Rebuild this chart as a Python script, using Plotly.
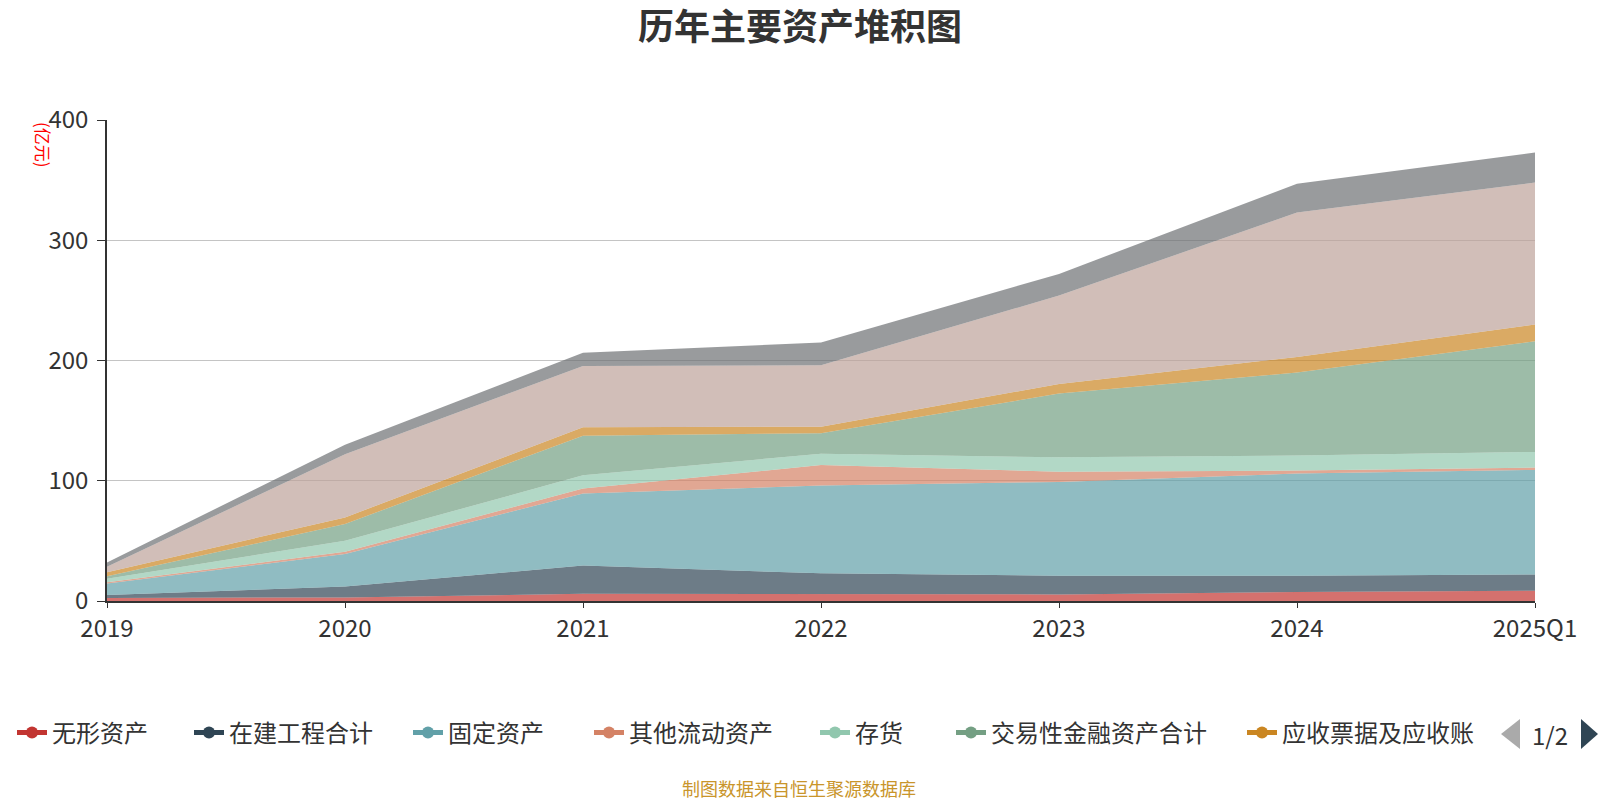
import plotly.graph_objects as go

categories = ["2019", "2020", "2021", "2022", "2023", "2024", "2025Q1"]

series_names = ["无形资产", "在建工程合计", "固定资产", "其他流动资产", "存货",
                "交易性金融资产合计", "应收票据及应收账", "货币资金", "其他"]
colors = ["#c23531", "#2f4554", "#61a0a8", "#d48265", "#91c7ae",
          "#749f83", "#ca8622", "#bda29a", "#6e7074"]

wuxing = [2.5, 3, 6, 5.5, 5.5, 7.5, 8.5]
zaijian = [2.5, 9, 23.5, 17.5, 15.5, 13.5, 13.5]
guding = [9.5, 27, 60, 73, 78, 85, 87]
qitaliudong = [1, 2, 4, 17, 8.5, 2.5, 2]
cunhuo = [3, 9, 11, 9.5, 12, 12.5, 13]
jiaoyixing = [2, 14, 33, 17, 53, 69, 92]
yingshou = [3.5, 5.5, 7, 5.5, 8, 13, 14]
huobi = [4.5, 52.5, 51, 51, 73.5, 120, 118]
qita = [3.5, 8, 11, 19, 18, 24, 25]

values = [wuxing, zaijian, guding, qitaliudong, cunhuo, jiaoyixing, yingshou, huobi, qita]

y_ticks = [0, 100, 200, 300, 400]

# legend icon centres (px) for page 1 of the legend
legend_icon_x = [25, 202, 421, 602, 828, 964, 1255]

FONT = "Noto Sans CJK SC"


def rgba(hexc, a):
    h = hexc.lstrip("#")
    r, g, b = int(h[0:2], 16), int(h[2:4], 16), int(h[4:6], 16)
    return f"rgba({r},{g},{b},{a})"


W, H = 1600, 800
L, R, T, B = 107, 65, 120, 199
pw, ph = W - L - R, H - T - B


def px(x):
    return (x - L) / pw


def py(y):
    return (H - B - y) / ph


fig = go.Figure()

for name, col, vals in zip(series_names, colors, values):
    fig.add_trace(go.Scatter(
        x=categories, y=vals, name=name, mode="lines",
        stackgroup="one", line=dict(width=0, color=col),
        fillcolor=rgba(col, 0.7), showlegend=False,
        hovertemplate="%{x}<br>" + name + ": %{y}亿元<extra></extra>",
    ))

legend_layouts = {}
for i, (name, col) in enumerate(list(zip(series_names, colors))[:7]):
    key = "legend" if i == 0 else f"legend{i + 1}"
    fig.add_trace(go.Scatter(
        x=[None], y=[None], name=name, mode="lines+markers",
        line=dict(color=col, width=2),
        marker=dict(color=col, size=20, symbol="circle"),
        showlegend=True, hoverinfo="skip", legend=key,
    ))
    legend_layouts[key] = dict(
        orientation="h", x=px(legend_icon_x[i] - 13), xanchor="left",
        y=py(733), yanchor="middle",
        font=dict(family=FONT, size=24, color="#333333"),
        itemsizing="constant", bgcolor="rgba(0,0,0,0)", borderwidth=0,
    )

shapes = [
    dict(type="path", xref="paper", yref="paper",
         path=f"M {px(1520)} {py(719)} L {px(1501)} {py(734)} L {px(1520)} {py(749)} Z",
         fillcolor="#aaaaaa", line=dict(width=0)),
    dict(type="path", xref="paper", yref="paper",
         path=f"M {px(1581)} {py(719)} L {px(1598)} {py(734)} L {px(1581)} {py(749)} Z",
         fillcolor="#2f4554", line=dict(width=0)),
]

annotations = [
    dict(text="(亿元)", xref="paper", yref="paper", x=px(43), y=py(145),
         showarrow=False, textangle=90, font=dict(family=FONT, size=17, color="#ff0000"),
         xanchor="center", yanchor="middle"),
    dict(text="1/2", xref="paper", yref="paper", x=px(1550), y=py(734),
         showarrow=False, font=dict(family=FONT, size=24, color="#333333"),
         xanchor="center", yanchor="middle"),
    dict(text="制图数据来自恒生聚源数据库", xref="paper", yref="paper", x=px(799), y=py(788),
         showarrow=False, font=dict(family=FONT, size=18, color="#c9952b"),
         xanchor="center", yanchor="middle"),
]

fig.update_layout(
    width=W, height=H,
    margin=dict(l=L, r=R, t=T, b=B, pad=0),
    paper_bgcolor="white", plot_bgcolor="white",
    title=dict(text="<b>历年主要资产堆积图</b>", xref="container", x=0.5, xanchor="center",
               yref="container", y=1 - 27 / H, yanchor="middle",
               font=dict(family=FONT, size=36, color="#333333")),
    font=dict(family=FONT, color="#333333"),
    xaxis=dict(
        type="category", categoryorder="array", categoryarray=categories,
        range=[0, len(categories) - 1], showgrid=False,
        showline=True, linecolor="#333333", linewidth=1.5,
        ticks="outside", ticklen=5, tickcolor="#333333",
        tickfont=dict(family=FONT, size=24, color="#333333"),
        zeroline=False, fixedrange=True,
    ),
    yaxis=dict(
        range=[0, 400], tickvals=y_ticks, showgrid=True, gridcolor="#c4c4c4",
        gridwidth=1.2, showline=True, linecolor="#333333", linewidth=1.5,
        ticks="outside", ticklen=8, tickcolor="#333333",
        tickfont=dict(family=FONT, size=24, color="#333333"),
        ticklabelstandoff=4, zeroline=False,
    ),
    shapes=shapes,
    annotations=annotations,
    hovermode="x",
    **legend_layouts,
)

fig.write_html("out.html", config={"displayModeBar": False},
               post_script="document.body.style.margin='0px';")
